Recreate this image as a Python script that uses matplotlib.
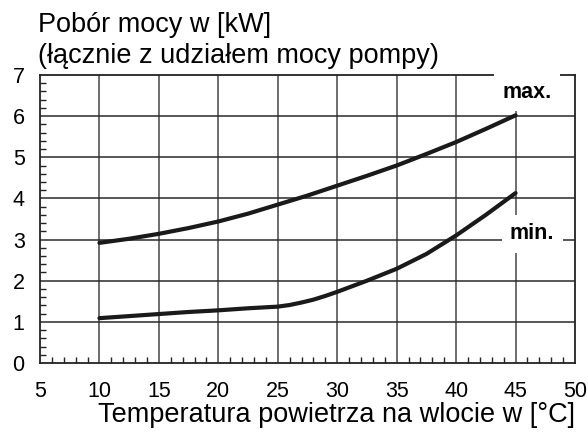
import matplotlib
matplotlib.use("Agg")
import matplotlib.pyplot as plt
from matplotlib.ticker import MultipleLocator

plt.rcParams['font.family'] = ['Liberation Sans', 'DejaVu Sans']

# inlet air temperature [°C] and power draw [kW]
temp_max = [10, 12.5, 15, 17.5, 20, 22.5, 25, 27.5, 30, 32.5, 35, 37.5, 40, 42.5, 45]
power_max = [2.92, 3.02, 3.14, 3.28, 3.44, 3.63, 3.85, 4.07, 4.31, 4.55, 4.80, 5.08, 5.37, 5.69, 6.02]

temp_min = [10, 12.5, 15, 17.5, 20, 22.5, 25, 26, 27, 28, 29, 30, 32.5, 35, 37.5, 40, 42.5, 45]
power_min = [1.09, 1.14, 1.19, 1.24, 1.28, 1.33, 1.37, 1.41, 1.47, 1.54, 1.63, 1.73, 2.0, 2.29, 2.65, 3.10, 3.60, 4.13]

x_ticks = [5, 10, 15, 20, 25, 30, 35, 40, 45, 50]
y_ticks = [0, 1, 2, 3, 4, 5, 6, 7]

fig = plt.figure(figsize=(5.88, 4.36), dpi=100)
ax = fig.add_axes([40 / 588, 1 - 363 / 436, 535 / 588, 288 / 436])

ax.set_xlim(5, 50)
ax.set_ylim(0, 7)
ax.set_xticks(x_ticks)
ax.set_yticks(y_ticks)
ax.xaxis.set_minor_locator(MultipleLocator(1))
ax.yaxis.set_minor_locator(MultipleLocator(0.2))
ax.tick_params(which='major', length=0, labelsize=15.5, pad=13)
ax.tick_params(axis='y', which='major', pad=11)
ax.tick_params(which='minor', direction='in', length=4, width=1, color='#222222')

for x in x_ticks[1:-1]:
    ax.axvline(x, color='#6e6e6e', lw=1.4, zorder=1)
for y in y_ticks[1:-1]:
    ax.axhline(y, color='#2a2a2a', lw=1.1, zorder=1)
for s in ax.spines.values():
    s.set_linewidth(1.3)
    s.set_color('#222222')

ax.plot(temp_max, power_max, color='#1a1a1a', lw=3, solid_capstyle='round', zorder=3)
ax.plot(temp_min, power_min, color='#1a1a1a', lw=3, solid_capstyle='round', zorder=3)

bbox = dict(facecolor='white', edgecolor='none', pad=6)
ax.text(46.0, 6.58, 'max.', fontsize=15.5, fontweight='bold', ha='center', va='center',
        bbox=bbox, zorder=4)
ax.text(46.4, 3.14, 'min.', fontsize=15.5, fontweight='bold', ha='center', va='center',
        bbox=bbox, zorder=4)

fig.text(38 / 588, 1 - 32 / 436, 'Pobór mocy w [kW]', fontsize=19.5, ha='left', va='baseline')
fig.text(38 / 588, 1 - 63 / 436, '(łącznie z udziałem mocy pompy)', fontsize=19.5,
         ha='left', va='baseline')
fig.text(575 / 588, 1 - 422 / 436, 'Temperatura powietrza na wlocie w [°C]', fontsize=19.5,
         ha='right', va='baseline')

fig.savefig('out.png', dpi=100)
